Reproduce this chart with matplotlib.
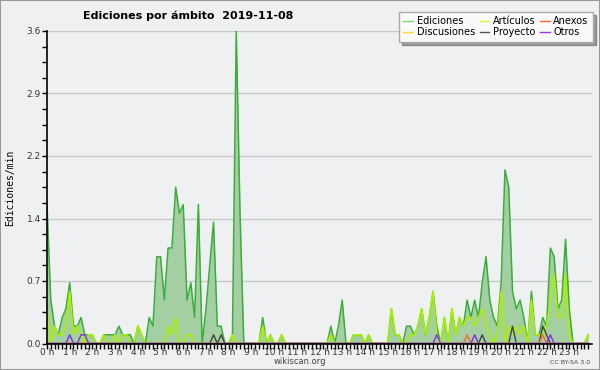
import numpy as np
import matplotlib
matplotlib.use('Agg')
import matplotlib.pyplot as plt
from matplotlib.lines import Line2D
from matplotlib.patches import Rectangle

# Edits per minute, one value per 10-minute slot (12 values = 2 hours per row)
ediciones = [
    1.6, 0.5, 0.2, 0.1, 0.3, 0.4, 0.7, 0.2, 0.2, 0.3, 0.1, 0.1,
    0.1, 0.0, 0.0, 0.1, 0.1, 0.1, 0.1, 0.2, 0.1, 0.1, 0.1, 0.0,
    0.2, 0.1, 0.0, 0.3, 0.2, 1.0, 1.0, 0.5, 1.1, 1.1, 1.8, 1.5,
    1.6, 0.5, 0.7, 0.3, 1.6, 0.0, 0.4, 0.9, 1.4, 0.2, 0.2, 0.0,
    0.0, 0.1, 3.6, 1.5, 0.0, 0.0, 0.0, 0.0, 0.0, 0.3, 0.0, 0.1,
    0.0, 0.0, 0.1, 0.0, 0.0, 0.0, 0.0, 0.0, 0.0, 0.0, 0.0, 0.0,
    0.0, 0.0, 0.0, 0.2, 0.0, 0.2, 0.5, 0.0, 0.0, 0.1, 0.1, 0.1,
    0.0, 0.1, 0.0, 0.0, 0.0, 0.0, 0.0, 0.4, 0.1, 0.1, 0.0, 0.2,
    0.2, 0.1, 0.2, 0.4, 0.1, 0.3, 0.6, 0.2, 0.0, 0.3, 0.0, 0.4,
    0.1, 0.3, 0.2, 0.5, 0.3, 0.5, 0.3, 0.7, 1.0, 0.5, 0.3, 0.2,
    0.7, 2.0, 1.8, 0.6, 0.4, 0.5, 0.3, 0.0, 0.6, 0.1, 0.1, 0.3,
    0.2, 1.1, 1.0, 0.4, 0.5, 1.2, 0.4, 0.0, 0.0, 0.0, 0.0, 0.1,
]
articulos = [
    0.4, 0.0, 0.2, 0.1, 0.1, 0.2, 0.6, 0.1, 0.2, 0.1, 0.0, 0.1,
    0.1, 0.0, 0.0, 0.1, 0.0, 0.0, 0.1, 0.0, 0.1, 0.1, 0.0, 0.0,
    0.2, 0.1, 0.0, 0.0, 0.0, 0.0, 0.0, 0.0, 0.2, 0.1, 0.3, 0.0,
    0.0, 0.1, 0.1, 0.0, 0.0, 0.0, 0.0, 0.0, 0.0, 0.0, 0.0, 0.0,
    0.0, 0.1, 0.0, 0.0, 0.0, 0.0, 0.0, 0.0, 0.0, 0.2, 0.0, 0.1,
    0.0, 0.0, 0.1, 0.0, 0.0, 0.0, 0.0, 0.0, 0.0, 0.0, 0.0, 0.0,
    0.0, 0.0, 0.0, 0.1, 0.0, 0.0, 0.0, 0.0, 0.0, 0.1, 0.1, 0.1,
    0.0, 0.1, 0.0, 0.0, 0.0, 0.0, 0.0, 0.4, 0.1, 0.1, 0.0, 0.0,
    0.1, 0.1, 0.2, 0.4, 0.1, 0.3, 0.6, 0.1, 0.0, 0.3, 0.0, 0.4,
    0.1, 0.3, 0.2, 0.3, 0.3, 0.2, 0.3, 0.4, 0.2, 0.1, 0.0, 0.1,
    0.6, 0.0, 0.2, 0.1, 0.2, 0.1, 0.2, 0.0, 0.5, 0.1, 0.1, 0.1,
    0.2, 0.5, 0.8, 0.3, 0.3, 0.8, 0.1, 0.0, 0.0, 0.0, 0.0, 0.1,
]
proyecto = [
    0, 0, 0, 0, 0, 0, 0, 0, 0, 0, 0, 0,
    0, 0, 0, 0, 0, 0, 0, 0, 0, 0, 0, 0,
    0, 0, 0, 0, 0, 0, 0, 0, 0, 0, 0, 0,
    0, 0, 0, 0, 0, 0, 0, 0, 0.1, 0, 0.1, 0,
    0, 0, 0, 0, 0, 0, 0, 0, 0, 0, 0, 0,
    0, 0, 0, 0, 0, 0, 0, 0, 0, 0, 0, 0,
    0, 0, 0, 0, 0, 0, 0, 0, 0, 0, 0, 0,
    0, 0, 0, 0, 0, 0, 0, 0, 0, 0, 0, 0,
    0, 0, 0, 0, 0, 0, 0, 0, 0, 0, 0, 0,
    0, 0, 0, 0, 0, 0, 0, 0.1, 0, 0, 0, 0,
    0, 0, 0, 0.2, 0, 0, 0, 0, 0, 0, 0, 0.2,
    0.1, 0, 0, 0, 0, 0, 0, 0, 0, 0, 0, 0,
]
anexos = [
    0, 0, 0, 0, 0, 0, 0, 0, 0, 0, 0, 0,
    0, 0, 0, 0, 0, 0, 0, 0, 0, 0, 0, 0,
    0, 0, 0, 0, 0, 0, 0, 0, 0, 0, 0, 0,
    0, 0, 0, 0, 0, 0, 0, 0, 0, 0, 0, 0,
    0, 0, 0, 0, 0, 0, 0, 0, 0, 0, 0, 0,
    0, 0, 0, 0, 0, 0, 0, 0, 0, 0, 0, 0,
    0, 0, 0, 0, 0, 0, 0, 0, 0, 0, 0, 0,
    0, 0, 0, 0, 0, 0, 0, 0, 0, 0, 0, 0,
    0, 0, 0, 0, 0, 0, 0, 0, 0, 0, 0, 0,
    0, 0, 0, 0.1, 0, 0, 0, 0, 0, 0, 0, 0,
    0, 0, 0, 0, 0, 0, 0, 0, 0, 0, 0, 0.1,
    0, 0, 0, 0, 0, 0, 0, 0, 0, 0, 0, 0,
]
otros = [
    0, 0, 0, 0, 0, 0, 0.1, 0, 0, 0.1, 0.1, 0,
    0, 0, 0, 0, 0, 0, 0, 0, 0, 0, 0, 0,
    0, 0, 0, 0, 0, 0, 0, 0, 0, 0, 0, 0,
    0, 0, 0, 0, 0, 0, 0, 0, 0, 0, 0, 0,
    0, 0, 0, 0, 0, 0, 0, 0, 0, 0, 0, 0,
    0, 0, 0, 0, 0, 0, 0, 0, 0, 0, 0, 0,
    0, 0, 0, 0, 0, 0, 0, 0, 0, 0, 0, 0,
    0, 0, 0, 0, 0, 0, 0, 0, 0, 0, 0, 0,
    0, 0, 0, 0, 0, 0, 0, 0.1, 0, 0, 0, 0,
    0, 0, 0, 0, 0, 0.1, 0, 0, 0, 0, 0, 0,
    0, 0, 0, 0, 0, 0, 0, 0, 0, 0, 0, 0,
    0, 0.1, 0, 0, 0, 0, 0, 0, 0, 0, 0, 0,
]
hour_labels = ['%d h' % h for h in range(24)]
y_ticks = [0, 0.72, 1.44, 2.16, 2.88, 3.6]
y_labels = ['0.0', '0.7', '1.4', '2.2', '2.9', '3.6']

BG = '#eff0f1'
hours = np.arange(len(ediciones)) / 6.0

fig = plt.figure(figsize=(6, 3.7), dpi=100)
fig.patch.set_facecolor(BG)
ax = fig.add_axes([47 / 600, 26.5 / 370, 545 / 600, 312.5 / 370])
ax.set_facecolor(BG)

ax.fill_between(hours, ediciones, 0, color='#a3cfa3', lw=0, zorder=1)
ax.plot(hours, ediciones, color='#3cac3c', lw=1.1, zorder=2)
ax.plot(hours, articulos, color='#aaf000', lw=1.2, zorder=2.1)
ax.plot(hours, proyecto, color='#444444', lw=1.0, zorder=2.2)
ax.plot(hours, anexos, color='#ff6a2a', lw=1.0, zorder=2.2)
ax.plot(hours, otros, color='#8a2be2', lw=1.0, zorder=2.2)

ax.set_xlim(0, 24)
ax.set_ylim(0, 3.6)
for s in ['top', 'right']:
    ax.spines[s].set_visible(False)
for s in ['left', 'bottom']:
    ax.spines[s].set_color('black')
    ax.spines[s].set_linewidth(1.2)
    ax.spines[s].set_zorder(3)

ax.set_xticks(range(24))
ax.set_xticklabels(hour_labels)
ax.set_xticks(np.arange(0, 24, 1 / 6), minor=True)
ax.set_yticks(y_ticks)
ax.set_yticklabels(y_labels)
ax.set_yticks(np.arange(0, 3.61, 0.18), minor=True)
ax.tick_params(which='both', direction='out', length=3.5, width=1, color='black')
ax.tick_params(axis='x', labelsize=6.5, labelcolor='#333333', pad=0)
ax.tick_params(axis='y', labelsize=6.5, labelcolor='#333333', pad=1)
ax.yaxis.grid(True, which='major', color='#c8c8c8', lw=1)
ax.set_axisbelow(True)

fig.text(0.313, 1 - 16 / 370, 'Ediciones por ámbito  2019-11-08',
         ha='center', va='center', fontsize=8, fontweight='bold')
fig.text(0.017, 1 - 188 / 370, 'Ediciones/min', rotation=90, fontsize=7,
         family='DejaVu Sans Mono', ha='center', va='center')
fig.text(0.5, 1 - 362 / 370, 'wikiscan.org', ha='center', va='center',
         fontsize=6, color='#444444')
fig.text(0.983, 1 - 362 / 370, 'CC BY-SA 3.0', ha='right', va='center',
         fontsize=4.5, color='#444444')

handles = [
    Line2D([], [], color='#77dd77', lw=1),
    Line2D([], [], color='#ffd633', lw=1),
    Line2D([], [], color='#ccff33', lw=1),
    Line2D([], [], color='#555555', lw=1),
    Line2D([], [], color='#ff6a2a', lw=1),
    Line2D([], [], color='#9933ff', lw=1),
]
names = ['Ediciones', 'Discusiones', 'Artículos', 'Proyecto', 'Anexos', 'Otros']
leg = fig.legend(handles, names, ncol=3, loc='upper right',
                 bbox_to_anchor=(593 / 600, 1 - 12 / 370), fontsize=7,
                 handlelength=1.0, handletextpad=0.35, columnspacing=0.5,
                 labelspacing=0.1, borderpad=0.45, borderaxespad=0,
                 fancybox=False, shadow=True,
                 framealpha=1, facecolor='#fafafa', edgecolor='#aaaaaa')

fig.add_artist(Rectangle((0, 0), 1, 1, transform=fig.transFigure, fill=False,
                         edgecolor='#999999', lw=1.5))

fig.savefig('out.png', dpi=100, facecolor=BG)
